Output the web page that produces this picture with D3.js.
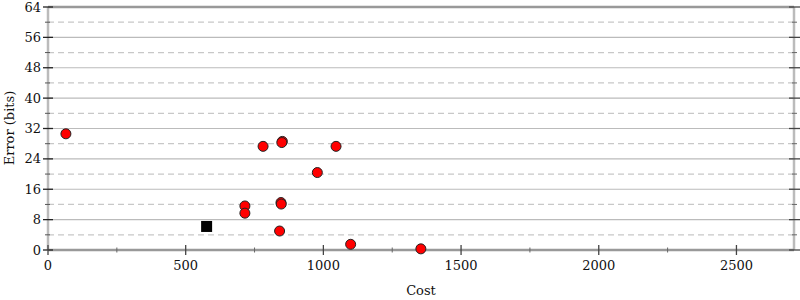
<!DOCTYPE html>
<html>
<head>
<meta charset="utf-8">
<script src="https://cdn.jsdelivr.net/npm/d3@7"></script>
<style>
  body { margin: 0; background: #fff; }
  text { font-family: "DejaVu Serif", serif; fill: #111; }
</style>
</head>
<body>
<div id="chart"></div>
<script>
// points
var costs  = [65, 781, 851, 849, 1046, 978, 715, 715, 846, 847, 841, 1099, 1354];
var errors = [30.6, 27.3, 28.6, 28.3, 27.3, 20.4, 11.6, 9.7, 12.5, 12.1, 5.0, 1.5, 0.3];
var startCost = [576];
var startError = [6.2];
var xTicks = [0, 500, 1000, 1500, 2000, 2500];
var yTicks = [0, 8, 16, 24, 32, 40, 48, 56, 64];

var opt = {
  width: 800, height: 300,
  margin: {top: 7, right: 6, bottom: 50, left: 48}
};
var inW = opt.width - opt.margin.left - opt.margin.right;
var inH = opt.height - opt.margin.top - opt.margin.bottom;

var x = d3.scaleLinear().domain([0, 2709]).range([0, inW]);
var y = d3.scaleLinear().domain([0, 64]).range([inH, 0]);

var svg = d3.select("#chart").append("svg")
  .attr("width", opt.width)
  .attr("height", opt.height);
var g = svg.append("g")
  .attr("transform", `translate(${opt.margin.left},${opt.margin.top})`);

var yMinor = d3.range(4, 64, 8);
var xMinor = d3.range(250, 2709, 500);

// grid
g.selectAll(".grid").data(yTicks.slice(1, -1)).enter().append("line")
  .attr("x1", 0).attr("x2", inW)
  .attr("y1", d => y(d)).attr("y2", d => y(d))
  .style("stroke", "#bbb").style("stroke-width", 1.2);
g.selectAll(".gridm").data(yMinor).enter().append("line")
  .attr("x1", 0).attr("x2", inW)
  .attr("y1", d => y(d)).attr("y2", d => y(d))
  .style("stroke", "#c8c8c8").style("stroke-width", 1.2)
  .style("stroke-dasharray", "6,4");

// frame
g.append("line").attr("x1", 0).attr("x2", 0).attr("y1", 0).attr("y2", inH)
  .style("stroke", "#bbb").style("stroke-width", 2.5);
g.append("line").attr("x1", inW).attr("x2", inW).attr("y1", 0).attr("y2", inH)
  .style("stroke", "#bbb").style("stroke-width", 2.5);
g.append("line").attr("x1", 0).attr("x2", inW).attr("y1", 0).attr("y2", 0)
  .style("stroke", "#999").style("stroke-width", 2.5);
g.append("line").attr("x1", 0).attr("x2", inW).attr("y1", inH).attr("y2", inH)
  .style("stroke", "#999").style("stroke-width", 2.5);

// ticks
function tickLines(data, attrs, w, col) {
  g.selectAll(null).data(data).enter().append("line")
    .attr("x1", attrs.x1).attr("x2", attrs.x2)
    .attr("y1", attrs.y1).attr("y2", attrs.y2)
    .style("stroke", col).style("stroke-width", w);
}
tickLines(yTicks, {x1: -5, x2: 5, y1: d => y(d), y2: d => y(d)}, 1.3, "#222");
tickLines(yMinor, {x1: -3, x2: 2, y1: d => y(d), y2: d => y(d)}, 1, "#555");
tickLines(yTicks, {x1: inW - 5, x2: inW + 6, y1: d => y(d), y2: d => y(d)}, 1.3, "#444");
tickLines(yMinor, {x1: inW - 2, x2: inW + 3, y1: d => y(d), y2: d => y(d)}, 1, "#666");
tickLines(xTicks, {x1: d => x(d), x2: d => x(d), y1: inH - 5, y2: inH + 5}, 1.3, "#444");
tickLines(xMinor, {x1: d => x(d), x2: d => x(d), y1: inH - 2.5, y2: inH + 2.5}, 1, "#666");

// tick labels
g.selectAll(".yl").data(yTicks).enter().append("text")
  .attr("x", -7).attr("y", d => y(d)).attr("dy", "0.35em")
  .style("text-anchor", "end").style("font-size", "13px")
  .text(d => d);
g.selectAll(".xl").data(xTicks).enter().append("text")
  .attr("x", d => x(d)).attr("y", inH + 20)
  .style("text-anchor", "middle").style("font-size", "13px")
  .text(d => d);

// axis titles
svg.append("text")
  .attr("transform", "translate(14,128) rotate(-90)")
  .style("text-anchor", "middle").style("font-size", "13px")
  .text("Error (bits)");
svg.append("text")
  .attr("x", opt.margin.left + inW / 2).attr("y", 295)
  .style("text-anchor", "middle").style("font-size", "13px")
  .text("Cost");

// points
var pts = costs.map((c, i) => ({c: c, e: errors[i]}));
g.selectAll(".pt").data(pts).enter().append("circle")
  .attr("cx", d => x(d.c)).attr("cy", d => y(d.e)).attr("r", 5)
  .style("fill", "#f00").style("stroke", "#222").style("stroke-width", 1);

var start = startCost.map((c, i) => ({c: c, e: startError[i]}));
g.selectAll(".st").data(start).enter().append("rect")
  .attr("x", d => x(d.c) - 5.5).attr("y", d => y(d.e) - 5.5)
  .attr("width", 11).attr("height", 11)
  .style("fill", "#000");
</script>
</body>
</html>
